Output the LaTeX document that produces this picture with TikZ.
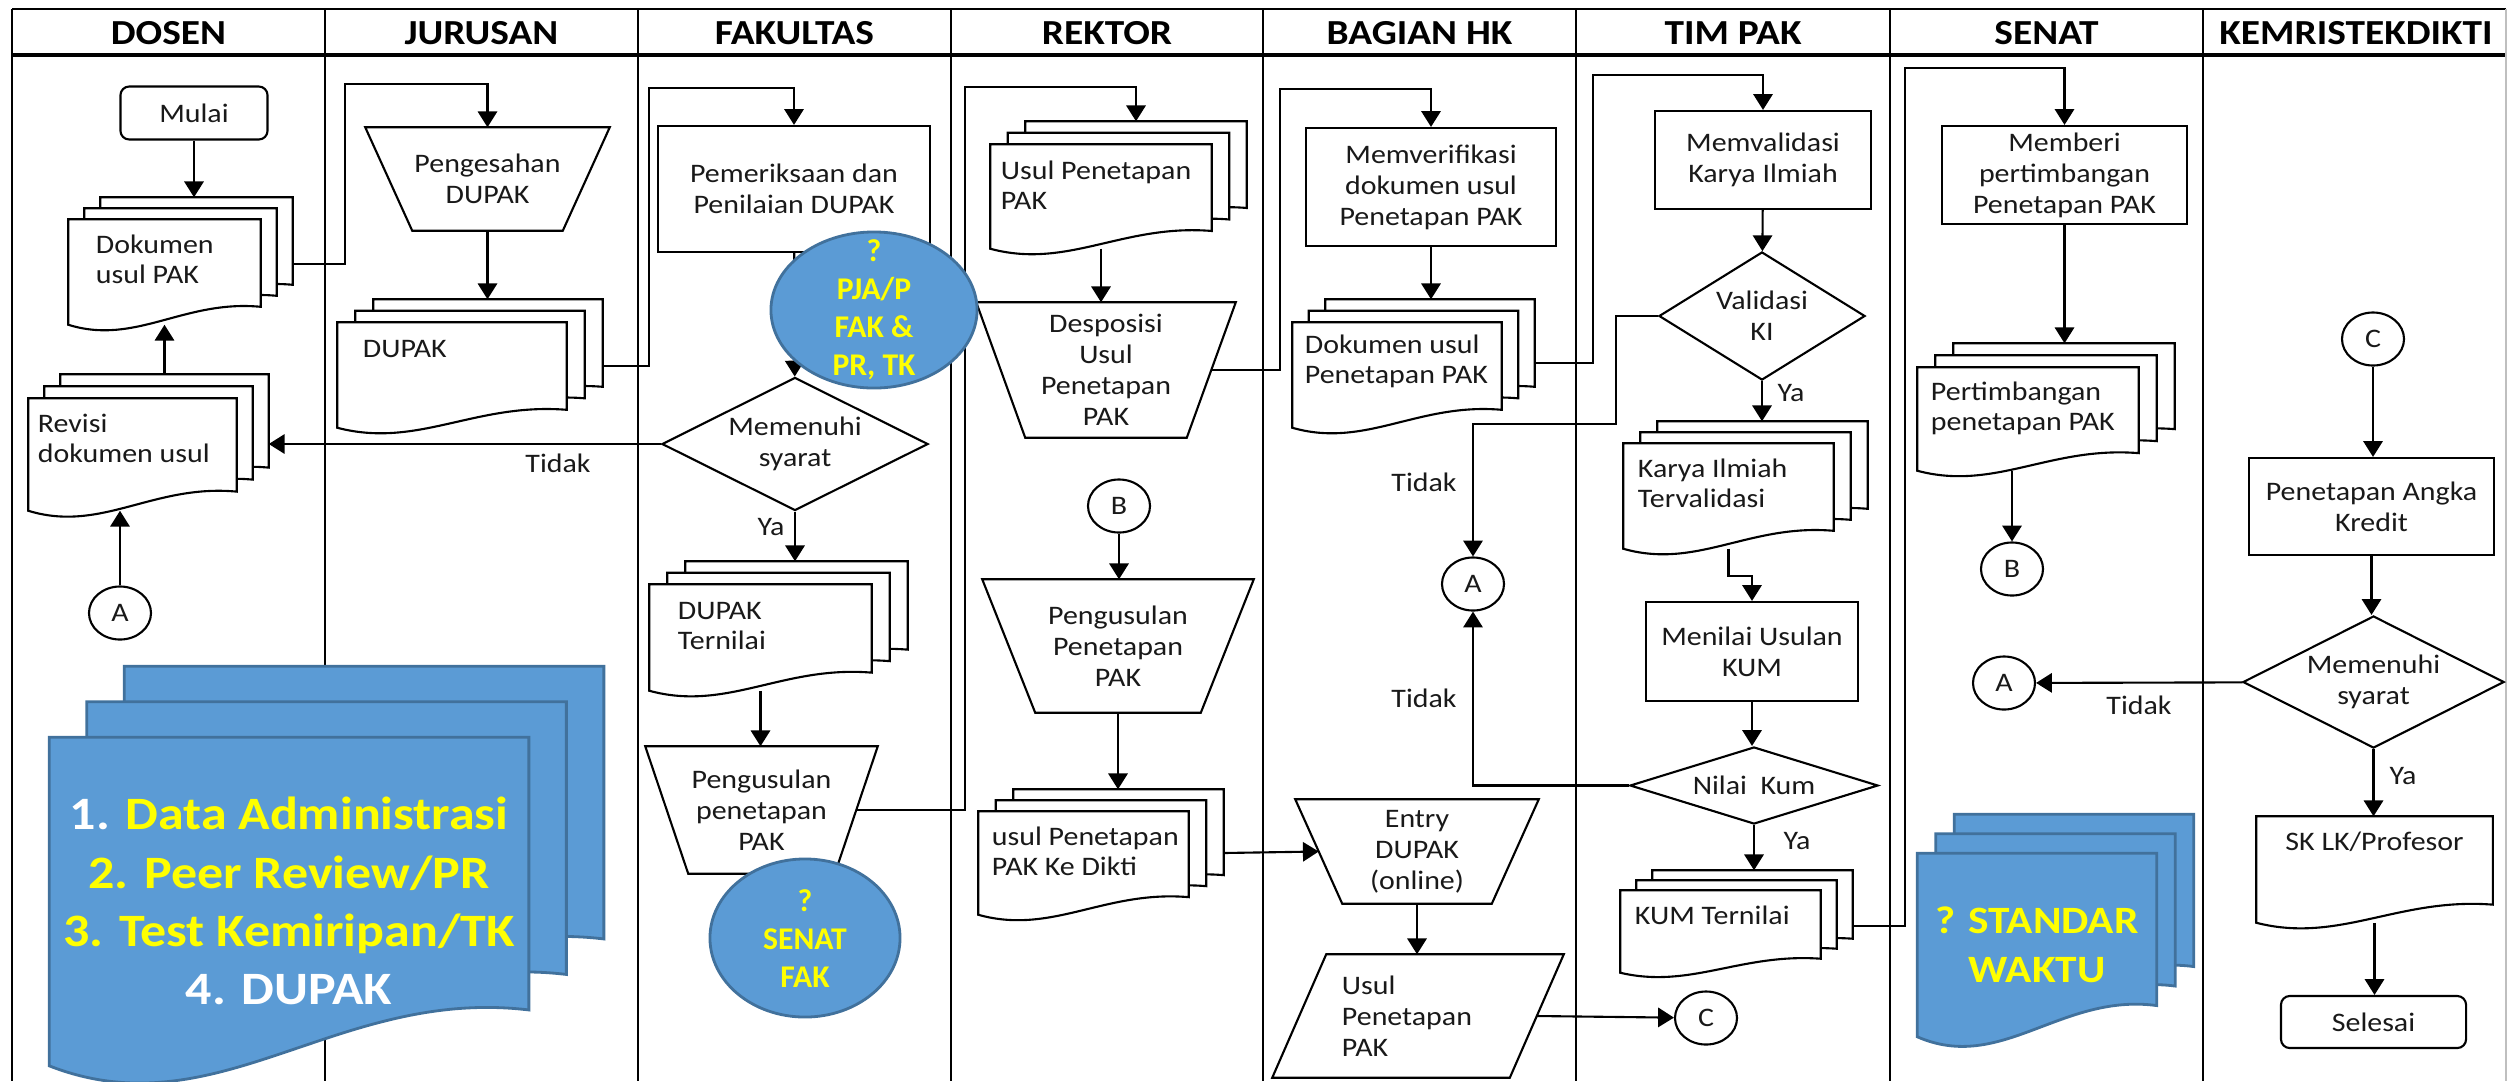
\documentclass[tikz,border=0pt]{standalone}
\usepackage{fontspec}
\setmainfont{Carlito}[FakeStretch=1.12]
\newfontfamily\plainfont{Carlito}
\usetikzlibrary{arrows.meta,shapes.geometric,calc,positioning}

\definecolor{bubblefill}{RGB}{91,155,213}
\definecolor{bubbleline}{RGB}{65,113,156}
\definecolor{marker}{RGB}{255,255,0}

\pgfdeclarelayer{lanes}
\pgfdeclarelayer{pages}
\pgfsetlayers{lanes,pages,main}

\tikzset{
  basic/.style     = {draw, line width=0.6pt, fill=white, inner sep=1pt, align=center,
                      font=\fontsize{7.6}{8.8}\selectfont, text=black!90},
  process/.style   = {basic, rectangle},
  terminal/.style  = {basic, rectangle, rounded corners=2.5pt},
  decision/.style  = {basic, diamond, inner sep=0pt},
  connector/.style = {basic, ellipse, inner sep=0pt, minimum width=0.62cm, minimum height=0.53cm},
  docnode/.style   = {rectangle, inner sep=0pt, font=\fontsize{7.6}{8.8}\selectfont, text=black!90},
  slanted/.style   = {docnode, inner sep=1pt, align=center},
  page/.style      = {draw, line width=0.6pt, fill=white},
  bluepage/.style  = {draw=bubbleline, line width=0.8pt, fill=bubblefill},
  bubble/.style    = {ellipse, draw=bubbleline, line width=0.8pt, fill=bubblefill, inner sep=0pt,
                      text=marker, font=\plainfont\fontsize{9}{10.8}\selectfont\bfseries},
  lanehead/.style  = {font=\fontsize{10}{12}\selectfont\bfseries},
  note/.style      = {font=\fontsize{7.6}{8.8}\selectfont, text=black!90},
  arr/.style       = {draw, line width=0.6pt, -{Triangle[length=4.5pt,width=5.5pt]}},
  laneline/.style  = {draw, line width=0.8pt}
}

% text block of a document symbol: width, height, first baseline, alignment, text
\newcommand{\pagetext}[5]{\parbox[c][#2][t]{#1}{#4\relax\rule{0pt}{#3}#5}}

% one page with a wavy lower edge, shifted by (#2,#3)
\newcommand{\docpage}[4]{%
  \path[#4] let \p1=($(#1.south west)+(#2,#3)$), \p2=($(#1.north east)+(#2,#3)$),
    \n1={\x2-\x1}, \n2={\y2-\y1} in
    (\x1,\y2) -- (\x2,\y2) -- (\x2,{\y1+0.17*\n2})
    .. controls ({\x1+0.6*\n1},{\y1+0.24*\n2}) and ({\x1+0.35*\n1},{\y1-0.2*\n2})
    .. (\x1,\y1) -- cycle;}

% stack of three pages behind a node
\newcommand{\docstack}[4]{%
  \docpage{#1}{2*#2}{2*#3}{#4}
  \docpage{#1}{#2}{#3}{#4}
  \docpage{#1}{0}{0}{#4}
  \coordinate (#1-top)   at ($(#1.north)+(2*#2,2*#3)$);
  \coordinate (#1-right) at ($(#1.east)+(2*#2,2*#3)$);}

% manual operation (wide top) and data (slanted) outlines round a node
\newcommand{\manualshape}[2]{%
  \path[page] (#1.north west) -- (#1.north east) -- ($(#1.south east)+(-#2,0)$)
    -- ($(#1.south west)+(#2,0)$) -- cycle;}
\newcommand{\datashape}[2]{%
  \path[page] ($(#1.north west)+(#2,0)$) -- (#1.north east) -- ($(#1.south east)+(-#2,0)$)
    -- (#1.south west) -- cycle;}

\begin{document}
\begin{tikzpicture}[x=0.01cm, y=0.01cm]
\useasboundingbox (0,0) rectangle (2509,-1081);

% swimlanes
\begin{pgfonlayer}{lanes}
  \draw[laneline] (12,-9) -- (2506,-9);
  \draw[line width=1.1pt] (12,-55) -- (2506,-55);
  \draw[laneline] (12,-9) -- (12,-1081) (325,-9) -- (325,-1081)
    (638,-9) -- (638,-1081) (951,-9) -- (951,-1081)
    (1263,-9) -- (1263,-1081) (1576,-9) -- (1576,-1081)
    (1890,-9) -- (1890,-1081) (2203,-9) -- (2203,-1081);
  \draw[laneline, black!25] (2506,-9) -- (2506,-1081);
\end{pgfonlayer}

\node[lanehead] (h1) at (168.5,-33) {DOSEN};
\node[lanehead] (h2) at (481.5,-33) {JURUSAN};
\node[lanehead] (h3) at (794.5,-33) {FAKULTAS};
\node[lanehead] (h4) at (1107,-33) {REKTOR};
\node[lanehead] (h5) at (1419.5,-33) {BAGIAN HK};
\node[lanehead] (h6) at (1733,-33) {TIM PAK};
\node[lanehead] (h7) at (2046.5,-33) {SENAT};
\node[lanehead] (h8) at (2356,-33) {KEMRISTEKDIKTI};

% DOSEN
\node[terminal, minimum width=1.47cm, minimum height=0.53cm] (mulai) at (194,-113) {Mulai};
\node[docnode] (dok) at (164.5,-272)
  {\pagetext{1.91cm}{1.04cm}{0.33cm}{\raggedright\leftskip=0.27cm}{Dokumen\\usul PAK}};
\node[docnode] (rev) at (132.5,-454.5)
  {\pagetext{2.07cm}{1.11cm}{0.33cm}{\raggedright\leftskip=0.09cm}{Revisi\\dokumen usul}};
\node[connector] (a1) at (120,-613) {A};
\node[docnode, text=marker, font=\fontsize{13.2}{16.5}\selectfont\bfseries] (bukti) at (289,-901.5)
  {\pagetext{4.78cm}{3.27cm}{0.92cm}{\centering}{\textcolor{white}{1.} Data Administrasi\\
   2. Peer Review/PR\\3. Test Kemiripan/TK\\\textcolor{white}{4. DUPAK}}};

% JURUSAN
\node[slanted, minimum width=2.43cm, minimum height=1.02cm] (sah) at (487.5,-179)
  {Pengesahan\\DUPAK};
\node[docnode] (dupak) at (452,-375)
  {\pagetext{2.28cm}{1.04cm}{0.34cm}{\raggedright\leftskip=0.25cm}{DUPAK}};

% FAKULTAS
\node[process, minimum width=2.72cm, minimum height=1.26cm] (periksa) at (794,-189)
  {Pemeriksaan dan\\Penilaian DUPAK};
\node[decision, aspect=2, minimum width=2.66cm, minimum height=1.33cm] (syarat1) at (795,-444)
  {Memenuhi\\syarat};
\node[docnode] (nilai) at (760.5,-637.5)
  {\pagetext{2.21cm}{1.05cm}{0.34cm}{\raggedright\leftskip=0.28cm}{DUPAK\\Ternilai}};
\node[slanted, minimum width=2.31cm, minimum height=1.26cm] (usulf) at (761.5,-810)
  {Pengusulan\\penetapan\\PAK};

% REKTOR
\node[docnode] (usulr) at (1101,-196.5)
  {\pagetext{2.2cm}{1.03cm}{0.34cm}{\raggedright\leftskip=0.1cm}{Usul Penetapan\\PAK}};
\node[slanted, minimum width=2.58cm, minimum height=1.34cm] (desp) at (1106,-370)
  {Desposisi\\Usul\\Penetapan\\PAK};
\node[connector] (b1) at (1119,-506) {B};
\node[slanted, minimum width=2.70cm, minimum height=1.32cm] (usulr2) at (1118,-646)
  {Pengusulan\\Penetapan\\PAK};
\node[docnode] (dikti) at (1083.5,-863)
  {\pagetext{2.09cm}{1.02cm}{0.33cm}{\raggedright\leftskip=0.13cm}{usul Penetapan\\PAK Ke Dikti}};

% BAGIAN HK
\node[process, minimum width=2.5cm, minimum height=1.18cm] (verif) at (1431,-187)
  {Memverifikasi\\dokumen usul\\Penetapan PAK};
\node[docnode] (dokhk) at (1397,-375)
  {\pagetext{2.08cm}{1.04cm}{0.30cm}{\raggedright\leftskip=0.12cm}{Dokumen usul\\Penetapan PAK}};
\node[connector] (a2) at (1473,-584) {A};
\node[slanted, minimum width=2.42cm, minimum height=1.03cm] (entry) at (1417,-851.5)
  {Entry\\DUPAK\\(online)};
\node[slanted, minimum width=2.9cm, minimum height=1.22cm, text width=1.52cm, align=left] (usulhk)
  at (1418,-1016) {Usul\\Penetapan\\PAK};

% TIM PAK
\node[process, minimum width=2.16cm, minimum height=0.98cm] (valid) at (1763,-160)
  {Memvalidasi\\Karya Ilmiah};
\node[decision, aspect=1.6, minimum width=2.06cm, minimum height=1.28cm] (valki) at (1762,-316)
  {Validasi\\KI};
\node[docnode] (karya) at (1728.5,-496)
  {\pagetext{2.09cm}{1.04cm}{0.33cm}{\raggedright\leftskip=0.14cm}{Karya Ilmiah\\Tervalidasi}};
\node[process, minimum width=2.12cm, minimum height=0.99cm] (menilai) at (1752,-651.5)
  {Menilai Usulan\\KUM};
\node[decision, aspect=3.2, minimum width=2.48cm, minimum height=0.77cm] (kum) at (1754,-785.5)
  {Nilai\ \ Kum};
\node[docnode] (kumt) at (1720.5,-931.5)
  {\pagetext{1.99cm}{0.81cm}{0.33cm}{\raggedright\leftskip=0.14cm}{KUM Ternilai}};
\node[connector] (c1) at (1706,-1018) {C};

% SENAT
\node[process, minimum width=2.45cm, minimum height=0.98cm] (beri) at (2064.5,-175)
  {Memberi\\pertimbangan\\Penetapan PAK};
\node[docnode] (pertim) at (2028,-419)
  {\pagetext{2.2cm}{1.02cm}{0.32cm}{\raggedright\leftskip=0.13cm}{Pertimbangan\\penetapan PAK}};
\node[connector] (b2) at (2012,-569) {B};
\node[connector] (a3) at (2004,-683) {A};
\node[docnode, text=marker, font=\fontsize{11}{14.2}\selectfont\bfseries] (waktu) at (2037,-945)
  {\pagetext{2.38cm}{1.82cm}{0.79cm}{\centering}{? STANDAR\\WAKTU}};

% KEMRISTEKDIKTI
\node[connector] (c2) at (2373,-339) {C};
\node[process, minimum width=2.45cm, minimum height=0.97cm] (angka) at (2371.5,-506.5)
  {Penetapan Angka\\Kredit};
\node[decision, aspect=2, minimum width=2.61cm, minimum height=1.32cm] (syarat2) at (2373.5,-682)
  {Memenuhi\\syarat};
\node[docnode] (sk) at (2374.5,-869.5)
  {\pagetext{2.35cm}{1.05cm}{0.33cm}{\centering}{SK LK/Profesor}};
\node[terminal, minimum width=1.85cm, minimum height=0.52cm] (selesai) at (2373.5,-1022) {Selesai};

% branch labels
\node[note] (tdk1) at (558,-463) {Tidak};
\node[note] (ya1) at (771,-527) {Ya};
\node[note] (tdk2) at (1424,-482) {Tidak};
\node[note] (ya2) at (1791,-393) {Ya};
\node[note] (tdk3) at (1424,-698) {Tidak};
\node[note] (ya3) at (1797,-841) {Ya};
\node[note] (tdk4) at (2139,-705) {Tidak};
\node[note] (ya4) at (2403,-776) {Ya};

% outlines behind the texts
\begin{pgfonlayer}{pages}
  \docstack{dok}{16}{11}{page}
  \docstack{rev}{16}{12}{page}
  \docstack{dupak}{18}{11.5}{page}
  \docstack{nilai}{18}{11.5}{page}
  \docstack{usulr}{17.5}{11.5}{page}
  \docstack{dikti}{17.5}{11}{page}
  \docstack{dokhk}{16.5}{11.5}{page}
  \docstack{karya}{17}{11}{page}
  \docstack{kumt}{16}{10}{page}
  \docstack{pertim}{18}{12}{page}
  \docstack{bukti}{37.5}{35.5}{bluepage}
  \docstack{waktu}{18.5}{19.5}{bluepage}
  \docpage{sk}{0}{0}{page}
  \manualshape{sah}{47}
  \manualshape{usulf}{43}
  \manualshape{desp}{49}
  \manualshape{usulr2}{53}
  \manualshape{entry}{47}
  \datashape{usulhk}{54}
\end{pgfonlayer}

% flow
\draw[arr] (mulai) -- (mulai |- dok-top);
\draw[arr] (rev-top) -- (dok.south);
\draw[arr] (a1) -- (a1 |- rev.south);
\draw[arr] ($(dok-right)+(0,-14)$) -- ++(52,0) |- ($(sah.north)+(0,43)$) -- (sah.north);
\draw[arr] (sah) -- (sah |- dupak-top);
\draw[arr] ($(dupak-right)+(0,-14)$) -- ++(46,0) |- ($(periksa.north)+(0,37)$) -- (periksa.north);
\draw[arr] (periksa) -- (syarat1);
\draw[arr] (syarat1) -- (syarat1 -| rev-right);
\draw[arr] (syarat1) -- (syarat1 |- nilai-top);
\draw[arr] (nilai) -- (nilai |- usulf.north);
\draw[arr] ($(usulf.east)+(-21.5,0)$) -| ($(usulr-top)+(-171,34)$) -| (usulr-top);
\draw[arr] (usulr) -- (usulr |- desp.north);
\draw[arr] ($(desp.east)+(-24.5,0)$) -| ($(verif.north)+(-151,38)$) -| (verif.north);
\draw[arr] (b1) -- (b1 |- usulr2.north);
\draw[arr] (usulr2) -- (usulr2 |- dikti-top);
\draw[arr] ($(dikti-right)+(0,-12)$) -- ($(entry.west)+(23.5,0)$);
\draw[arr] (entry) -- (entry |- usulhk.north);
\draw[arr] ($(usulhk.east)+(-27,0)$) -- (c1);
\draw[arr] (verif) -- (verif |- dokhk-top);
\draw[arr] ($(dokhk-right)+(0,-11)$) -- ++(58,0) |- ($(valid.north)+(0,35)$) -- (valid.north);
\draw[arr] (valid) -- (valki);
\draw[arr] (valki.west) -- ++(-42,0) |- ($(a2.north)+(0,132.5)$) -- (a2.north);
\draw[arr] (valki) -- (valki |- karya-top);
\draw[arr] (karya.south) -- ++(0,-27) -| (menilai.north);
\draw[arr] (menilai) -- (menilai |- kum.north);
\draw[arr] (kum.west) -| (a2.south);
\draw[arr] (kum) -- (kum |- kumt-top);
\draw[arr] ($(kumt-right)+(0,-14.5)$) -- ++(52,0) |- ($(beri.north)+(0,57)$) -- (beri.north);
\draw[arr] (beri) -- (beri |- pertim-top);
\draw[arr] (b2 |- pertim.south) -- (b2);
\draw[arr] (c2) -- (c2 |- angka.north);
\draw[arr] (angka) -- (angka |- syarat2.north);
\draw[arr] (syarat2) -- (a3);
\draw[arr] (syarat2) -- (syarat2 |- sk.north);
\draw[arr] (sk) -- (sk |- selesai.north);

% notes laid over the chart
\node[bubble, minimum width=2.06cm, minimum height=1.56cm] (q1) at (874,-310)
  {\smash{\raisebox{-0.08cm}{\parbox[c]{1.2cm}{\centering ?\\PJA/P\\FAK \&\\PR, TK}}}};
\node[bubble, minimum width=1.9cm, minimum height=1.58cm] (q2) at (805,-938)
  {\smash{\raisebox{-0.08cm}{\parbox[c]{1.1cm}{\centering ?\\SENAT\\FAK}}}};

\end{tikzpicture}
\end{document}
